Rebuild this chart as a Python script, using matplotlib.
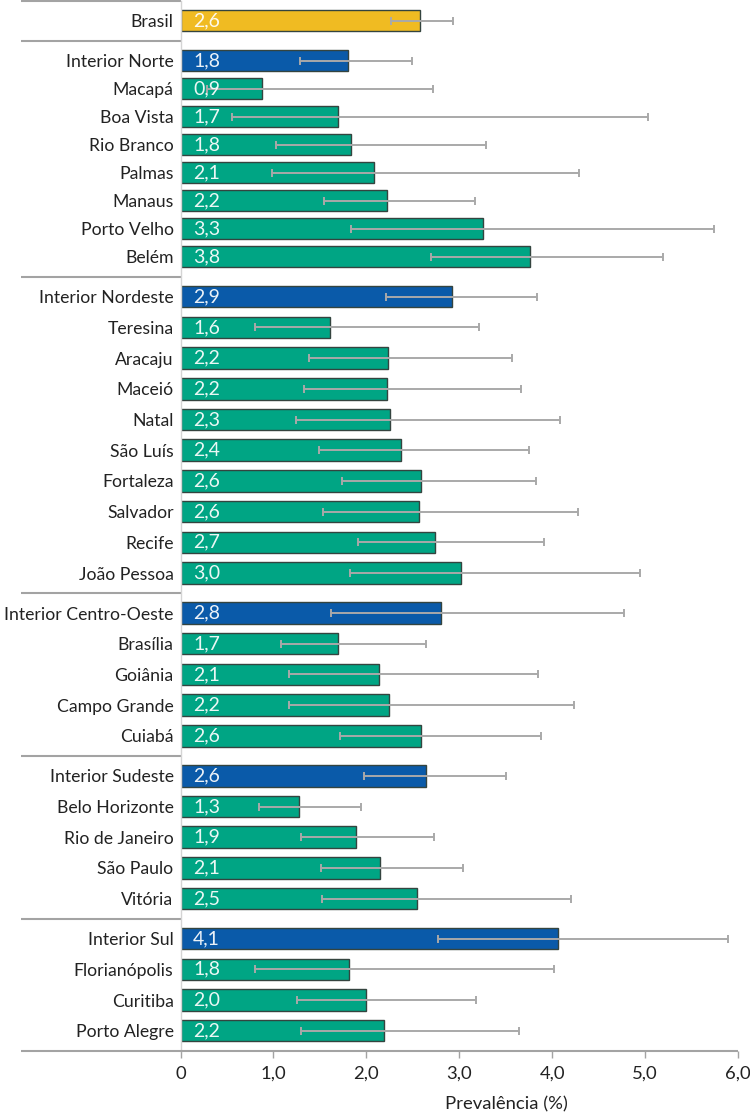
import matplotlib
matplotlib.use("Agg")
import matplotlib.pyplot as plt
import matplotlib.transforms as mtransforms
import numpy as np

plt.rcParams['font.family'] = ['Lato', 'DejaVu Sans']

# Data: prevalence (%) with 95% CI, grouped by region
group_names = [
    ["Brasil"],
    ["Interior Norte", "Macapá", "Boa Vista", "Rio Branco", "Palmas", "Manaus",
     "Porto Velho", "Belém"],
    ["Interior Nordeste", "Teresina", "Aracaju", "Maceió", "Natal", "São Luís",
     "Fortaleza", "Salvador", "Recife", "João Pessoa"],
    ["Interior Centro-Oeste", "Brasília", "Goiânia", "Campo Grande", "Cuiabá"],
    ["Interior Sudeste", "Belo Horizonte", "Rio de Janeiro", "São Paulo", "Vitória"],
    ["Interior Sul", "Florianópolis", "Curitiba", "Porto Alegre"],
]
prevalence = [
    2.58,
    1.80, 0.88, 1.69, 1.84, 2.08, 2.22, 3.26, 3.76,
    2.92, 1.61, 2.23, 2.22, 2.26, 2.37, 2.59, 2.57, 2.74, 3.02,
    2.80, 1.70, 2.14, 2.24, 2.59,
    2.64, 1.28, 1.89, 2.15, 2.54,
    4.06, 1.81, 2.00, 2.19,
]
ci_low = [
    2.27,
    1.29, 0.28, 0.55, 1.03, 0.99, 1.54, 1.84, 2.70,
    2.21, 0.80, 1.38, 1.33, 1.24, 1.49, 1.74, 1.53, 1.91, 1.82,
    1.62, 1.08, 1.17, 1.17, 1.72,
    1.97, 0.84, 1.30, 1.51, 1.52,
    2.77, 0.80, 1.25, 1.30,
]
ci_high = [
    2.93,
    2.49, 2.72, 5.03, 3.29, 4.29, 3.17, 5.74, 5.19,
    3.84, 3.21, 3.57, 3.66, 4.08, 3.75, 3.83, 4.28, 3.91, 4.95,
    4.77, 2.64, 3.85, 4.24, 3.88,
    3.50, 1.94, 2.73, 3.04, 4.20,
    5.89, 4.02, 3.18, 3.64,
]
xticks = [0, 1, 2, 3, 4, 5, 6]
xtick_labels = ["0", "1,0", "2,0", "3,0", "4,0", "5,0", "6,0"]

# colours
c_brasil = "#f0bb22"
c_interior = "#0a5aa9"
c_city = "#00a584"
c_edge = "#34443f"
c_err = "#a9a9a9"
c_sep = "#a3a3a3"
c_text = "#222222"
fs = 13.3

# layout (y in pixel-like units, top to bottom)
y_start = 20.7
group_gap = 40.0
row_pitch = [0, 28.0, 30.7, 30.7, 30.7, 30.7]

names, ypos, colors, seps = [], [], [], [y_start - group_gap / 2]
y = y_start
for gi, grp in enumerate(group_names):
    if gi > 0:
        seps.append(y + group_gap / 2)
        y += group_gap
    for ri, nm in enumerate(grp):
        if ri > 0:
            y += row_pitch[gi]
        names.append(nm)
        ypos.append(y)
        if gi == 0:
            colors.append(c_brasil)
        elif ri == 0:
            colors.append(c_interior)
        else:
            colors.append(c_city)
y_bottom = y + group_gap / 2

vals = np.array(prevalence)
lo = np.array(ci_low)
hi = np.array(ci_high)

W, H = 750, 1115
fig = plt.figure(figsize=(W / 100, H / 100), dpi=100)
x0, x1 = 180.5, 738.0
ax = fig.add_axes([x0 / W, (H - y_bottom) / H, (x1 - x0) / W, (y_bottom - seps[0]) / H])

ax.barh(ypos, vals, height=21.5, color=colors, edgecolor=c_edge, linewidth=1.0, zorder=2)
ax.errorbar(vals, ypos, xerr=[vals - lo, hi - vals], fmt='none', ecolor=c_err,
            elinewidth=1.4, capsize=3, capthick=1.4, zorder=3)

for v, yy in zip(vals, ypos):
    ax.annotate(f"{v:.1f}".replace(".", ","), xy=(0, yy), xytext=(9, 0),
                textcoords="offset points", va="center", ha="left",
                fontsize=14, color="white", alpha=0.92, zorder=4)

ax.set_xlim(0, 6)
ax.set_ylim(y_bottom, seps[0])
ax.set_yticks(ypos)
ax.set_yticklabels(names, fontsize=12.7, color=c_text)
ax.tick_params(axis="y", length=0, pad=5)
ax.set_xticks(xticks)
ax.set_xticklabels(xtick_labels, fontsize=fs, color=c_text)
ax.tick_params(axis="x", length=5, width=1, color=c_sep, pad=6)
ax.set_xlabel("Prevalência (%)", fontsize=fs, color=c_text)
ax.xaxis.set_label_coords(0.584, -0.043)

for s in ["top", "right", "bottom"]:
    ax.spines[s].set_visible(False)
ax.spines["left"].set_color("#d4d4d4")
ax.spines["left"].set_linewidth(1.0)

# group separators extending into the label area
trans = mtransforms.blended_transform_factory(ax.transAxes, ax.transData)
left_ext = (21 - x0) / (x1 - x0)
for sy in seps:
    ax.plot([left_ext, 0], [sy, sy], transform=trans, color=c_sep, lw=1.5,
            clip_on=False, solid_capstyle="butt")
ax.plot([left_ext, 1], [y_bottom, y_bottom], transform=trans, color=c_sep, lw=1.5,
        clip_on=False, solid_capstyle="butt", zorder=5)

fig.savefig("out.png", dpi=100)
